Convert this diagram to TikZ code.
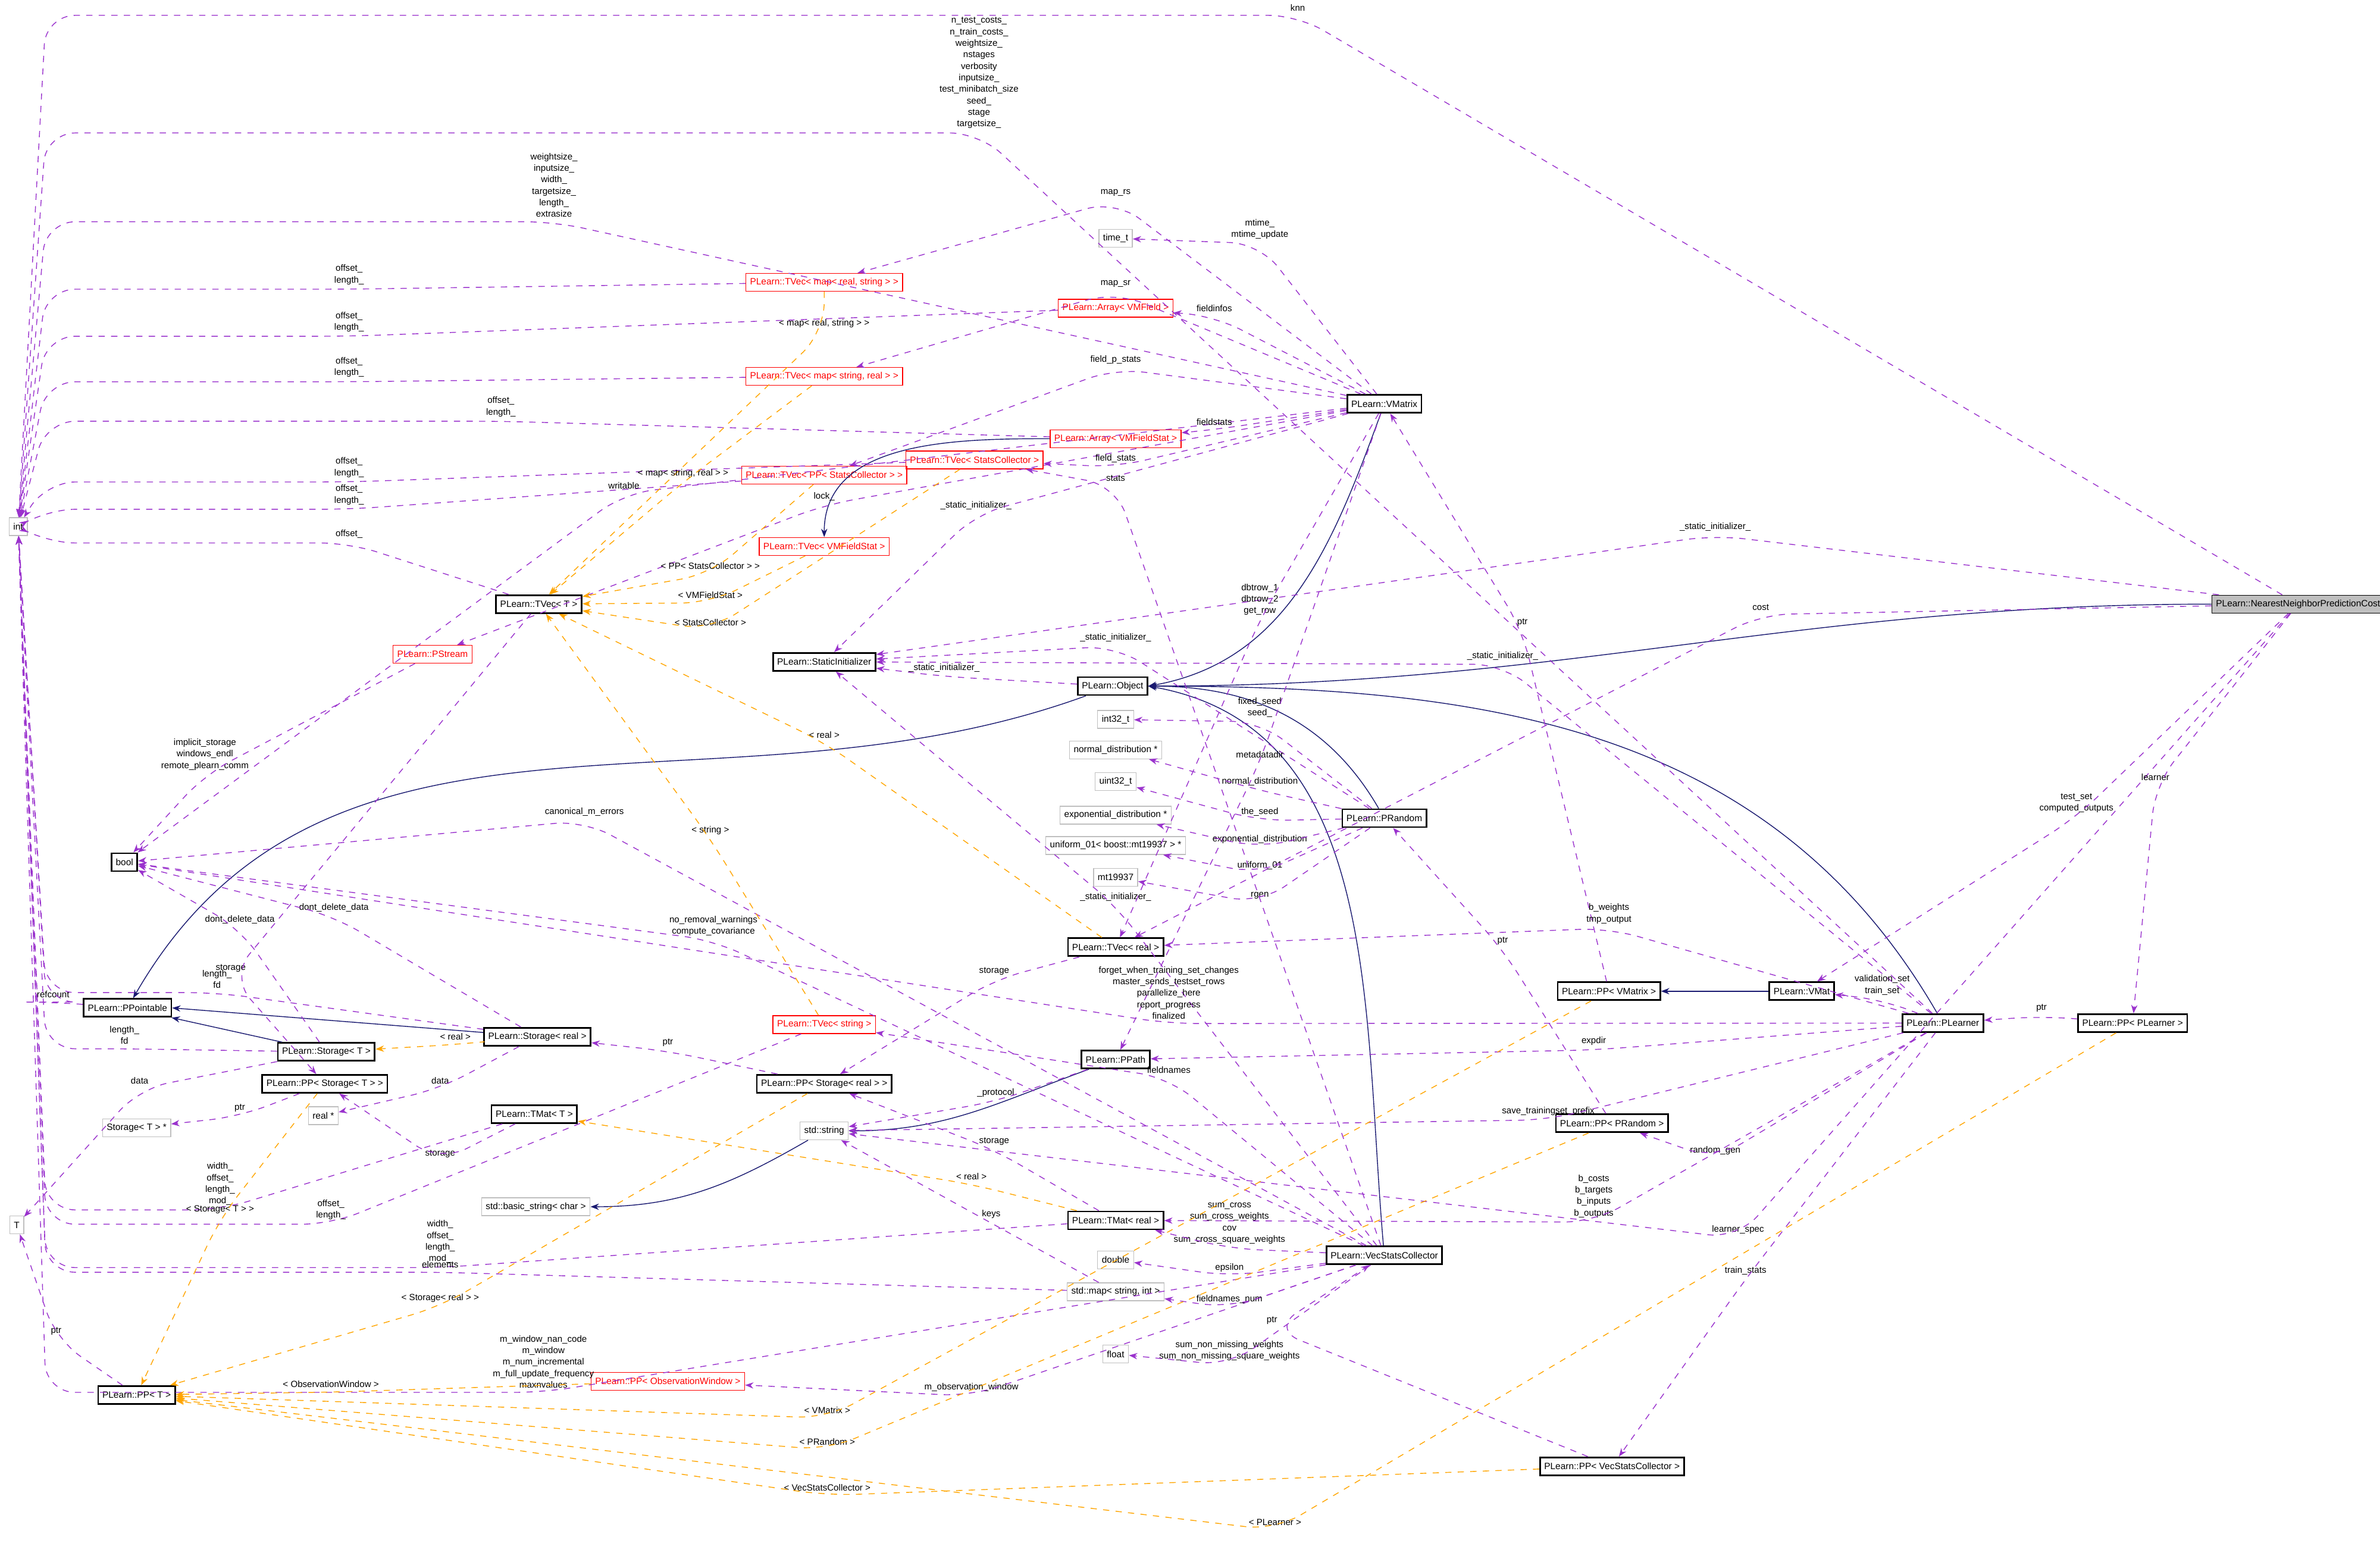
\documentclass[tikz,border=0pt]{standalone}
\usepackage{fontspec}
\setmainfont{Liberation Sans}
\usetikzlibrary{calc,arrows.meta}
\definecolor{usecol}{RGB}{154,50,205}
\definecolor{tplcol}{RGB}{255,165,0}
\definecolor{inhcol}{RGB}{25,25,112}
\definecolor{extcol}{RGB}{191,191,191}
\tikzset{
  box/.style={draw,font=\fontsize{4.4}{5}\selectfont,inner xsep=2pt,inner ysep=0pt,minimum height=0.3cm},
  cls/.style={box,black,thick},
  redcls/.style={box,red},
  ext/.style={box,draw=extcol},
  root/.style={box,fill=extcol},
  lbl/.style={font=\fontsize{4.3}{5.5}\selectfont,align=center,inner sep=0.5pt,black},
  use/.style={draw=usecol,dashed,-{Stealth[length=4pt,width=3pt]},usecol,rounded corners=14pt},
  tpl/.style={draw=tplcol,dashed,-{Stealth[length=4pt,width=3pt]},tplcol,rounded corners=14pt},
  inh/.style={draw=inhcol,-{Stealth[length=4pt,width=3pt]},inhcol}
}
\newcommand\lt{\textless}
\newcommand\gt{\textgreater}
% label first, then the line just under it
\newcommand\lnk[5][use]{\node[lbl] (l) at (#4) {#5};
  \draw[#1] (#2) -- ($(l.south)+(0,2)$) -- (#3);}
% into int: run level, then along the left bundle
\newcommand\lnki[3]{\node[lbl] (l) at (#2) {#3};
  \coordinate (p) at ($(l.south)+(0,2)$);
  \draw[use] (#1) -- (p) -- ($(p -| int.east)+(12,0)$) -- (int);}
\begin{document}
\begin{tikzpicture}[x=0.02551cm,y=-0.02551cm]
\useasboundingbox (0,0) rectangle (1568,1025);
% classes
\node[ext] (int) at (12,347) {int};
\node[cls] (bool) at (82,568) {bool};
\node[ext] (T) at (11,807) {T};
\node[cls] (ppointable) at (84,664) {PLearn::PPointable};
\node[cls] (storaget) at (215,693) {PLearn::Storage\lt{} T \gt};
\node[cls] (ppst) at (214,714) {PLearn::PP\lt{} Storage\lt{} T \gt{} \gt};
\node[ext] (storagetp) at (90,743) {Storage\lt{} T \gt{} *};
\node[ext] (realp) at (213,735) {real *};
\node[cls] (storagereal) at (354,683) {PLearn::Storage\lt{} real \gt};
\node[cls] (tmatt) at (352,734) {PLearn::TMat\lt{} T \gt};
\node[ext] (basicstring) at (353,795) {std::basic\_string\lt{} char \gt};
\node[cls] (ppt) at (90,919) {PLearn::PP\lt{} T \gt};
\node[redcls] (ppow) at (440,910) {PLearn::PP\lt{} ObservationWindow \gt};
\node[redcls] (pstream) at (285,431) {PLearn::PStream};
\node[cls] (tvect) at (355,398) {PLearn::TVec\lt{} T \gt};
\node[cls] (si) at (543,436) {PLearn::StaticInitializer};
\node[redcls] (tvecmrs) at (543,186) {PLearn::TVec\lt{} map\lt{} real, string \gt{} \gt};
\node[redcls] (tvecmsr) at (543,248) {PLearn::TVec\lt{} map\lt{} string, real \gt{} \gt};
\node[redcls] (tvecpsc) at (543,313) {PLearn::TVec\lt{} PP\lt{} StatsCollector \gt{} \gt};
\node[redcls] (tvecvmfs) at (543,360) {PLearn::TVec\lt{} VMFieldStat \gt};
\node[redcls] (tvecsc) at (642,303) {PLearn::TVec\lt{} StatsCollector \gt};
\node[redcls] (arrvmf) at (735,203) {PLearn::Array\lt{} VMField \gt};
\node[redcls] (arrvmfs) at (735,289) {PLearn::Array\lt{} VMFieldStat \gt};
\node[ext] (timet) at (735,157) {time\_t};
\node[cls] (vmatrix) at (912,266) {PLearn::VMatrix};
\node[cls] (object) at (733,452) {PLearn::Object};
\node[ext] (int32) at (735,474) {int32\_t};
\node[ext] (normal) at (735,494) {normal\_distribution *};
\node[ext] (uint32) at (735,515) {uint32\_t};
\node[ext] (expo) at (735,537) {exponential\_distribution *};
\node[ext] (unif) at (735,557) {uniform\_01\lt{} boost::mt19937 \gt{} *};
\node[ext] (mt) at (735,578) {mt19937};
\node[cls] (prandom) at (912,539) {PLearn::PRandom};
\node[cls] (tvecreal) at (735,624) {PLearn::TVec\lt{} real \gt};
\node[redcls] (tvecstring) at (543,675) {PLearn::TVec\lt{} string \gt};
\node[cls] (ppsr) at (543,714) {PLearn::PP\lt{} Storage\lt{} real \gt{} \gt};
\node[ext] (stdstring) at (543,745) {std::string};
\node[cls] (ppath) at (735,698) {PLearn::PPath};
\node[cls] (tmatreal) at (735,804) {PLearn::TMat\lt{} real \gt};
\node[ext] (double) at (735,830) {double};
\node[ext] (stdmap) at (735,851) {std::map\lt{} string, int \gt};
\node[ext] (float) at (735,892) {float};
\node[cls] (vsc) at (912,827) {PLearn::VecStatsCollector};
\node[cls] (ppvmatrix) at (1060,653) {PLearn::PP\lt{} VMatrix \gt};
\node[cls] (vmat) at (1187,653) {PLearn::VMat};
\node[cls] (plearner) at (1280,674) {PLearn::PLearner};
\node[cls] (pppl) at (1405,674) {PLearn::PP\lt{} PLearner \gt};
\node[cls] (ppprandom) at (1062,740) {PLearn::PP\lt{} PRandom \gt};
\node[cls] (ppvsc) at (1062,966) {PLearn::PP\lt{} VecStatsCollector \gt};
\node[root] (nnpc) at (1514,398) {PLearn::NearestNeighborPredictionCost};
% inheritance
\draw[inh] (nnpc.west) to[out=180,in=0] (object.east);
\draw[inh] (vmatrix) to[out=250,in=10] (object.east);
\draw[inh] (prandom) to[out=120,in=0] (object.east);
\draw[inh] (vsc) to[out=95,in=-10] (object.east);
\draw[inh] (plearner) to[out=120,in=0] (object.east);
\draw[inh] (object) to[out=200,in=60] (ppointable);
\draw[inh] (storaget) -- (ppointable);
\draw[inh] (storagereal) -- (ppointable.east);
\draw[inh] (arrvmfs) to[out=180,in=90] (tvecvmfs);
\draw[inh] (vmat) -- (ppvmatrix);
\draw[inh] (stdstring) to[out=210,in=0] (basicstring);
\draw[inh] (ppath) to[out=200,in=0] (stdstring);
% uses, to int
\lnki{nnpc}{855,5}{knn}
\lnki{plearner}{645,48}{n\_test\_costs\_\\n\_train\_costs\_\\weightsize\_\\nstages\\verbosity\\inputsize\_\\test\_minibatch\_size\\seed\_\\stage\\targetsize\_}
\lnki{vmatrix}{365,122}{weightsize\_\\inputsize\_\\width\_\\targetsize\_\\length\_\\extrasize}
\lnki{tvecmrs}{230,181}{offset\_\\length\_}
\lnki{arrvmf}{230,212}{offset\_\\length\_}
\lnki{tvecmsr}{230,242}{offset\_\\length\_}
\lnki{arrvmfs}{330,268}{offset\_\\length\_}
\lnki{tvecsc}{230,308}{offset\_\\length\_}
\lnki{tvecpsc}{230,326}{offset\_\\length\_}
\lnki{tvect}{230,352}{offset\_}
\lnki{ppointable}{35,655}{refcount}
\lnki{storaget}{82,682}{length\_\\fd}
\lnki{storagereal}{143,645}{length\_\\fd}
\lnki{tmatt}{145,780}{width\_\\offset\_\\length\_\\mod\_}
\lnki{tvecstring}{218,797}{offset\_\\length\_}
\lnki{tmatreal}{290,818}{width\_\\offset\_\\length\_\\mod\_}
\lnki{stdmap}{290,833}{elements}
\lnki{vsc}{358,897}{m\_window\_nan\_code\\m\_window\\m\_num\_incremental\\m\_full\_update\_frequency\\maxnvalues}
% uses, others
\lnk{storaget}{T}{92,712}{data}
\lnk{ppst}{storagetp}{158,730}{ptr}
\lnk{storagereal}{realp}{290,712}{data}
\lnk{storaget}{bool}{158,606}{dont\_delete\_data}
\lnk{storagereal}{bool}{220,598}{dont\_delete\_data}
\lnk{tmatt}{ppst}{290,760}{storage}
\lnk{vsc}{ppow}{640,914}{m\_observation\_window}
\lnk{ppt}{T}{37,877}{ptr}
\lnk{tvect}{ppst}{152,638}{storage}
\lnk{pstream}{bool}{135,497}{implicit\_storage\\windows\_endl\\remote\_plearn\_comm}
\lnk{vmatrix}{bool}{411,320}{writable}
\lnk{vsc}{bool}{385,535}{canonical\_m\_errors}
\lnk{vsc}{bool}{470,610}{no\_removal\_warnings\\compute\_covariance}
\lnk{vmatrix}{pstream}{543,327}{lock\_}
\lnk{vmatrix}{tvecmrs}{735,127}{map\_rs}
\lnk{vmatrix}{tvecmsr}{735,187}{map\_sr}
\lnk{vmatrix}{timet}{830,151}{mtime\_\\mtime\_update}
\lnk{vmatrix}{arrvmf}{800,203}{fieldinfos}
\lnk{vmatrix}{tvecpsc}{735,237}{field\_p\_stats}
\lnk{vmatrix}{arrvmfs}{800,278}{fieldstats}
\lnk{vmatrix}{tvecsc}{735,302}{field\_stats}
\lnk{vsc}{tvecsc}{735,315}{stats}
\lnk{vmatrix}{si}{643,333}{\_static\_initializer\_}
\lnk{nnpc}{si}{1130,347}{\_static\_initializer\_}
\lnk{prandom}{si}{735,420}{\_static\_initializer\_}
\lnk{object}{si}{622,440}{\_static\_initializer\_}
\lnk{plearner}{si}{990,432}{\_static\_initializer\_}
\lnk{vsc}{si}{735,591}{\_static\_initializer\_}
\lnk{vmatrix}{tvecreal}{830,395}{dbtrow\_1\\dbtrow\_2\\get\_row}
\lnk{ppvmatrix}{vmatrix}{1003,410}{ptr}
\lnk{nnpc}{tvecreal}{1160,400}{cost}
\lnk{prandom}{int32}{830,466}{fixed\_seed\\seed\_}
\lnk{vmatrix}{ppath}{830,497}{metadatadir}
\lnk{prandom}{normal}{830,515}{normal\_distribution}
\lnk{prandom}{uint32}{830,535}{the\_seed}
\lnk{prandom}{expo}{830,553}{exponential\_distribution}
\lnk{prandom}{unif}{830,570}{uniform\_01}
\lnk{prandom}{mt}{830,590}{rgen}
\lnk{plearner}{tvecreal}{1060,602}{b\_weights\\tmp\_output}
\lnk{ppprandom}{prandom}{990,620}{ptr}
\lnk{plearner}{bool}{770,654}{forget\_when\_training\_set\_changes\\master\_sends\_testset\_rows\\parallelize\_here\\report\_progress\\finalized}
\lnk{tvecreal}{ppsr}{655,640}{storage}
\lnk{vsc}{tvecstring}{770,705}{fieldnames}
\lnk{ppath}{stdstring}{656,720}{\_protocol}
\lnk{tmatreal}{ppsr}{655,752}{storage}
\lnk{stdmap}{stdstring}{653,800}{keys}
\lnk{plearner}{ppath}{1050,686}{expdir}
\lnk{plearner}{stdstring}{1020,732}{save\_trainingset\_prefix}
\lnk{plearner}{ppprandom}{1130,758}{random\_gen}
\lnk{plearner}{tmatreal}{1050,788}{b\_costs\\b\_targets\\b\_inputs\\b\_outputs}
\lnk{vsc}{tmatreal}{810,806}{sum\_cross\\sum\_cross\_weights\\cov\\sum\_cross\_square\_weights}
\lnk{vsc}{double}{810,835}{epsilon}
\lnk{vsc}{stdmap}{810,856}{fieldnames\_num}
\lnk{vsc}{float}{810,890}{sum\_non\_missing\_weights\\sum\_non\_missing\_square\_weights}
\lnk{nnpc}{stdstring}{1145,810}{learner\_spec}
\lnk{plearner}{ppvsc}{1150,837}{train\_stats}
\lnk{plearner}{vmat}{1240,649}{validation\_set\\train\_set}
\lnk{nnpc}{vmat}{1368,529}{test\_set\\computed\_outputs}
\lnk{nnpc}{pppl}{1420,512}{learner}
\lnk{pppl}{plearner}{1345,664}{ptr}
\lnk{ppvsc}{vsc}{838,870}{ptr}
\lnk{ppsr}{storagereal}{440,687}{ptr}
% template instances
\lnk[tpl]{tvecmrs}{tvect}{543,213}{\lt{} map\lt{} real, string \gt{} \gt}
\lnk[tpl]{tvecmsr}{tvect}{450,312}{\lt{} map\lt{} string, real \gt{} \gt}
\lnk[tpl]{tvecpsc}{tvect}{468,373}{\lt{} PP\lt{} StatsCollector \gt{} \gt}
\lnk[tpl]{tvecvmfs}{tvect}{468,392}{\lt{} VMFieldStat \gt}
\lnk[tpl]{tvecsc}{tvect}{468,410}{\lt{} StatsCollector \gt}
\lnk[tpl]{tvecstring}{tvect}{468,547}{\lt{} string \gt}
\lnk[tpl]{tvecreal}{tvect}{543,484}{\lt{} real \gt}
\lnk[tpl]{storagereal}{storaget}{300,683}{\lt{} real \gt}
\lnk[tpl]{ppst}{ppt}{145,797}{\lt{} Storage\lt{} T \gt{} \gt}
\lnk[tpl]{ppsr}{ppt}{290,855}{\lt{} Storage\lt{} real \gt{} \gt}
\lnk[tpl]{ppow}{ppt}{218,912}{\lt{} ObservationWindow \gt}
\lnk[tpl]{ppvmatrix}{ppt}{545,929}{\lt{} VMatrix \gt}
\lnk[tpl]{ppprandom}{ppt}{545,950}{\lt{} PRandom \gt}
\lnk[tpl]{ppvsc}{ppt}{545,980}{\lt{} VecStatsCollector \gt}
\lnk[tpl]{pppl}{ppt}{840,1003}{\lt{} PLearner \gt}
\lnk[tpl]{tmatreal}{tmatt}{640,775}{\lt{} real \gt}
\end{tikzpicture}
\end{document}
